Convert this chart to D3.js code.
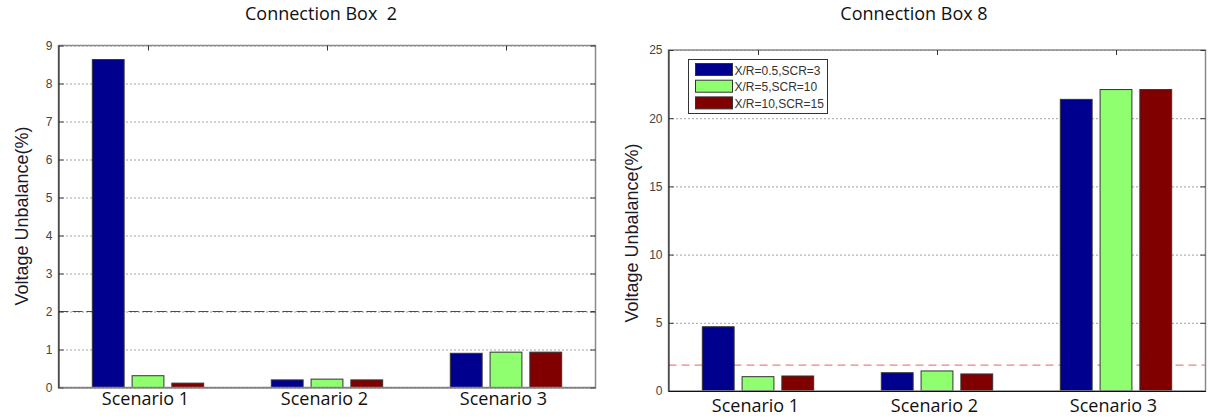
<!DOCTYPE html>
<html>
<head>
<meta charset="utf-8">
<script src="https://cdn.jsdelivr.net/npm/d3@7"></script>
<style>
  body { margin: 0; background: #fff; }
  svg { display: block; }
</style>
</head>
<body>
<svg id="chart" width="1210" height="419"></svg>
<script>
// data
var categories = ["Scenario 1", "Scenario 2", "Scenario 3"];
var seriesNames = ["X/R=0.5,SCR=3", "X/R=5,SCR=10", "X/R=10,SCR=15"];
var seriesColors = ["#00008f", "#8fff70", "#800000"];

var box2Values = [
  [8.63, 0.2, 0.9],
  [0.31, 0.22, 0.93],
  [0.115, 0.2, 0.93]
];
var box8Values = [
  [4.71, 1.34, 21.38],
  [1.05, 1.47, 22.1],
  [1.1, 1.25, 22.1]
];
var box2Ticks = [0, 1, 2, 3, 4, 5, 6, 7, 8, 9];
var box8Ticks = [0, 5, 10, 15, 20, 25];
var box2Limit = 2;
var box8Limit = 1.9;

var svg = d3.select("#chart");

var drawPanel = function (opt) {
  var g = svg.append("g");
  var x = d3.scaleLinear().domain([0.5, 3.5]).range([opt.left, opt.right]);
  var y = d3.scaleLinear().domain([0, opt.ymax]).range([opt.bottom, opt.top]);
  var w = opt.right - opt.left;

  // dotted grid
  g.append("g")
    .attr("transform", "translate(" + opt.left + ",0)")
    .call(d3.axisLeft(y).tickValues(opt.ticks).tickSize(-w).tickFormat(""))
    .call(function (s) {
      s.select(".domain").remove();
      s.selectAll("line").attr("stroke", "#444").attr("stroke-dasharray", "1,3");
    });

  // limit line
  g.append("line")
    .attr("x1", opt.left).attr("x2", opt.right)
    .attr("y1", y(opt.limit)).attr("y2", y(opt.limit))
    .attr("stroke", opt.limitColor)
    .attr("stroke-width", 1.2)
    .attr("stroke-dasharray", opt.limitDash);

  // bars, MATLAB style grouping
  var n = opt.values.length;
  var groupW = Math.min(0.8, n / (n + 1.5));
  var step = groupW / n;
  var barW = step * 0.8;
  opt.values.forEach(function (vals, si) {
    var off = (si - (n - 1) / 2) * step;
    g.selectAll(".bar" + si)
      .data(vals)
      .enter().append("rect")
      .attr("x", function (d, i) { return x(i + 1 + off - barW / 2); })
      .attr("width", x(barW) - x(0))
      .attr("y", function (d) { return y(d); })
      .attr("height", function (d) { return y(0) - y(d); })
      .attr("fill", seriesColors[si])
      .attr("stroke", "#333")
      .attr("stroke-width", 1);
  });

  // frame
  g.append("rect")
    .attr("x", opt.left).attr("y", opt.top)
    .attr("width", w).attr("height", opt.bottom - opt.top)
    .attr("fill", "none").attr("stroke", "#8a8a8a").attr("stroke-width", 1.5);

  // y axis with inward ticks
  g.append("g")
    .attr("transform", "translate(" + opt.left + ",0)")
    .call(d3.axisLeft(y).tickValues(opt.ticks).tickSizeInner(-5).tickSizeOuter(0).tickPadding(6))
    .call(function (s) {
      s.select(".domain").attr("stroke", "#111");
      s.selectAll("line").attr("stroke", "#333");
      s.selectAll("text").attr("fill", "#444")
        .style("font-family", "Liberation Sans, Arial, sans-serif").style("font-size", "12px");
    });

  // right side ticks
  g.append("g")
    .attr("transform", "translate(" + opt.right + ",0)")
    .call(d3.axisRight(y).tickValues(opt.ticks).tickSizeInner(-5).tickSizeOuter(0).tickFormat(""))
    .call(function (s) {
      s.select(".domain").remove();
      s.selectAll("line").attr("stroke", "#333");
    });

  // top ticks at group centres
  g.append("g")
    .attr("transform", "translate(0," + opt.top + ")")
    .call(d3.axisTop(x).tickValues([1, 2, 3]).tickSizeInner(-5).tickSizeOuter(0).tickFormat(""))
    .call(function (s) {
      s.select(".domain").remove();
      s.selectAll("line").attr("stroke", "#333");
    });

  // bottom axis labels
  g.append("g")
    .attr("transform", "translate(0," + opt.bottom + ")")
    .call(d3.axisBottom(x).tickValues([1, 2, 3]).tickSize(0).tickPadding(opt.xPad)
      .tickFormat(function (d) { return categories[d - 1]; }))
    .call(function (s) {
      s.select(".domain").attr("stroke", opt.bottomColor);
      s.selectAll("text").attr("fill", "#111").attr("dx", -3)
        .style("font-family", "Open Sans, sans-serif").style("font-size", "18px");
    });

  // y label
  g.append("text")
    .attr("transform", "translate(" + opt.ylabelX + "," + opt.ylabelY + ") rotate(-90)")
    .attr("text-anchor", "middle")
    .attr("fill", "#1a1a2e")
    .style("font-family", "Liberation Sans, Arial, sans-serif")
    .style("font-size", "18px")
    .text("Voltage Unbalance(%)");

  // title
  g.append("text")
    .attr("x", opt.titleX).attr("y", opt.titleY)
    .attr("text-anchor", "middle")
    .attr("fill", "#111")
    .style("font-family", "Open Sans, sans-serif")
    .style("font-size", "18px")
    .style("white-space", "pre")
    .text(opt.title);

  return g;
};

drawPanel({
  left: 58.5, right: 595.5, top: 45.5, bottom: 387.5,
  ymax: 9, ticks: box2Ticks, values: box2Values,
  limit: box2Limit, limitColor: "#ff0000", limitDash: "10,4",
  bottomColor: "#777", xPad: 5,
  ylabelX: 28, ylabelY: 216,
  title: "Connection Box  2", titleX: 321, titleY: 20
});

var right = drawPanel({
  left: 668.5, right: 1205.5, top: 50, bottom: 391,
  ymax: 25, ticks: box8Ticks, values: box8Values,
  limit: box8Limit, limitColor: "#f48080", limitDash: "8,5",
  bottomColor: "#111", xPad: 8,
  ylabelX: 638, ylabelY: 233,
  title: "Connection Box 8", titleX: 914, titleY: 20
});

// legend
var legend = right.append("g").attr("transform", "translate(688.5,59.5)");
legend.append("rect")
  .attr("width", 139).attr("height", 54)
  .attr("fill", "#fff").attr("stroke", "#333").attr("stroke-width", 1);
seriesNames.forEach(function (name, i) {
  legend.append("rect")
    .attr("x", 7).attr("y", 4 + i * 16.7)
    .attr("width", 37).attr("height", 12)
    .attr("fill", seriesColors[i]).attr("stroke", "#333");
  legend.append("text")
    .attr("x", 46).attr("y", 15 + i * 16.7)
    .attr("fill", "#333")
    .style("font-family", "Liberation Sans, Arial, sans-serif")
    .style("font-size", "12px")
    .text(name);
});
</script>
</body>
</html>
